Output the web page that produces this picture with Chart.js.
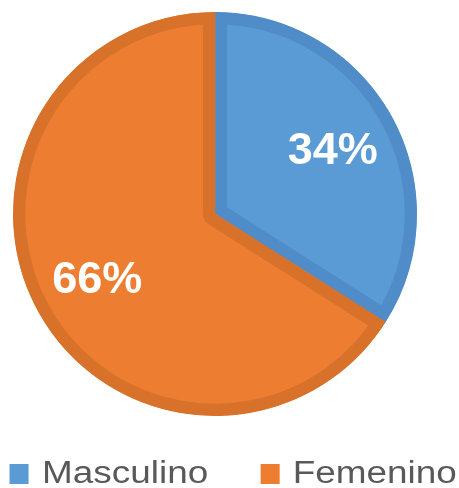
<!DOCTYPE html>
<html>
<head>
<meta charset="utf-8">
<script src="https://cdn.jsdelivr.net/npm/chart.js@4"></script>
<style>
  html, body { margin: 0; padding: 0; background: #fff; }
  #wrap { position: relative; width: 459px; height: 488px; }
  #leyenda {
    position: absolute; left: 0; top: 457px;
    display: flex; align-items: flex-start;
    font-family: "Liberation Sans", Arial, sans-serif;
    font-size: 31px; line-height: 31px; color: #595959;
    transform: scaleX(1.19); transform-origin: left top;
    white-space: nowrap;
  }
  #leyenda .item { display: flex; align-items: flex-start; margin-left: 8.4px; }
  #leyenda .item + .item { margin-left: 44px; }
  #leyenda .caja { width: 16px; height: 20px; margin-top: 7px; margin-right: 11px; }
</style>
</head>
<body>
<div id="wrap">
  <canvas id="pieChart" width="459" height="488"></canvas>
  <div id="leyenda"></div>
</div>
<script>
// datos del gráfico
const categorias = ['Masculino', 'Femenino'];
const porcentajes = [34, 66];
const colores = ['#5B9BD5', '#ED7D31'];
const bordes = ['#4F8CC8', '#D8722A'];

// etiquetas de porcentaje dentro de cada sector
const etiquetasPlugin = {
  id: 'etiquetas',
  afterDatasetsDraw(chart) {
    const ctx = chart.ctx;
    const meta = chart.getDatasetMeta(0);
    ctx.save();
    ctx.fillStyle = '#ffffff';
    ctx.font = 'bold 45px "Liberation Sans", Arial, sans-serif';
    ctx.textAlign = 'center';
    ctx.textBaseline = 'middle';
    meta.data.forEach((arc, i) => {
      const p = arc.getProps(['x', 'y', 'startAngle', 'endAngle', 'outerRadius'], true);
      const ang = (p.startAngle + p.endAngle) / 2;
      const r = p.outerRadius * 0.665;
      ctx.fillText(porcentajes[i] + '%', p.x + Math.cos(ang) * r, p.y + Math.sin(ang) * r + 2);
    });
    ctx.restore();
  }
};

// leyenda en HTML construida a partir de las etiquetas de Chart.js
const leyendaHtml = {
  id: 'leyendaHtml',
  afterUpdate(chart) {
    const cont = document.getElementById('leyenda');
    cont.innerHTML = '';
    const items = chart.options.plugins.legend.labels.generateLabels(chart);
    items.forEach(item => {
      const div = document.createElement('div');
      div.className = 'item';
      const caja = document.createElement('span');
      caja.className = 'caja';
      caja.style.background = item.fillStyle;
      const txt = document.createElement('span');
      txt.textContent = item.text;
      div.appendChild(caja);
      div.appendChild(txt);
      cont.appendChild(div);
    });
  }
};

new Chart(document.getElementById('pieChart'), {
  type: 'pie',
  data: {
    labels: categorias,
    datasets: [{
      data: porcentajes,
      backgroundColor: colores,
      borderColor: bordes,
      borderWidth: 12,
      borderAlign: 'inner'
    }]
  },
  options: {
    responsive: false,
    animation: false,
    layout: { padding: { left: 13, right: 42, top: 12, bottom: 72 } },
    plugins: {
      tooltip: { enabled: false },
      legend: {
        display: false,
        labels: {
          generateLabels(chart) {
            return categorias.map((c, i) => ({
              text: c,
              fillStyle: colores[i],
              index: i
            }));
          }
        }
      }
    }
  },
  plugins: [etiquetasPlugin, leyendaHtml]
});
</script>
</body>
</html>
